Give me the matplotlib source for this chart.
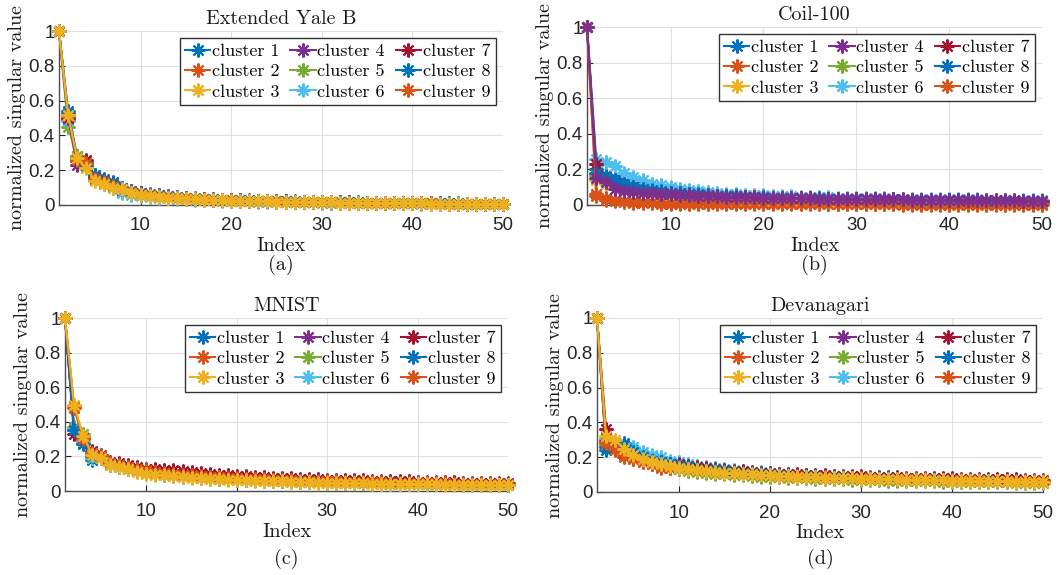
import numpy as np
import matplotlib
matplotlib.use("Agg")
import matplotlib.pyplot as plt

# normalized singular values of the first 50 components, one list per cluster
index = list(range(1, 51))
cluster_names = [f"cluster {i}" for i in range(1, 10)]
yticks = [0, 0.2, 0.4, 0.6, 0.8, 1]
xticks = [10, 20, 30, 40, 50]

# --- Extended Yale B ---
ya_c1 = [1.00, 0.54, 0.28, 0.22, 0.17, 0.15, 0.13, 0.10, 0.08, 0.07,
         0.060, 0.055, 0.050, 0.045, 0.040, 0.037, 0.034, 0.032, 0.030, 0.028,
         0.026, 0.025, 0.024, 0.023, 0.022, 0.021, 0.020, 0.019, 0.018, 0.017,
         0.016, 0.016, 0.015, 0.014, 0.014, 0.013, 0.012, 0.012, 0.011, 0.011,
         0.010, 0.010, 0.009, 0.009, 0.008, 0.008, 0.007, 0.007, 0.006, 0.006]
ya_c2 = [1.00, 0.50, 0.26, 0.25, 0.15, 0.13, 0.11, 0.09, 0.08, 0.07,
         0.058, 0.052, 0.047, 0.042, 0.038, 0.035, 0.032, 0.030, 0.028, 0.026,
         0.025, 0.024, 0.023, 0.022, 0.021, 0.020, 0.019, 0.018, 0.017, 0.016,
         0.015, 0.015, 0.014, 0.013, 0.013, 0.012, 0.011, 0.011, 0.010, 0.010,
         0.009, 0.009, 0.008, 0.008, 0.007, 0.007, 0.006, 0.006, 0.005, 0.005]
ya_c3 = [1.00, 0.52, 0.27, 0.21, 0.14, 0.12, 0.10, 0.09, 0.07, 0.06,
         0.052, 0.047, 0.043, 0.040, 0.036, 0.033, 0.031, 0.029, 0.027, 0.025,
         0.024, 0.023, 0.022, 0.021, 0.020, 0.019, 0.018, 0.017, 0.016, 0.015,
         0.015, 0.014, 0.013, 0.013, 0.012, 0.011, 0.011, 0.010, 0.010, 0.009,
         0.009, 0.008, 0.008, 0.007, 0.007, 0.006, 0.006, 0.005, 0.005, 0.005]
ya_c4 = [1.00, 0.49, 0.23, 0.24, 0.16, 0.12, 0.11, 0.08, 0.07, 0.06,
         0.054, 0.049, 0.044, 0.040, 0.037, 0.034, 0.031, 0.029, 0.027, 0.025,
         0.024, 0.023, 0.022, 0.021, 0.020, 0.019, 0.018, 0.017, 0.016, 0.015,
         0.014, 0.014, 0.013, 0.012, 0.012, 0.011, 0.011, 0.010, 0.010, 0.009,
         0.009, 0.008, 0.008, 0.007, 0.007, 0.006, 0.006, 0.005, 0.005, 0.004]
ya_c5 = [1.00, 0.45, 0.28, 0.23, 0.16, 0.13, 0.12, 0.09, 0.08, 0.065,
         0.057, 0.051, 0.046, 0.042, 0.038, 0.035, 0.032, 0.030, 0.028, 0.026,
         0.025, 0.024, 0.023, 0.022, 0.021, 0.020, 0.019, 0.018, 0.017, 0.016,
         0.015, 0.015, 0.014, 0.013, 0.013, 0.012, 0.011, 0.011, 0.010, 0.010,
         0.009, 0.009, 0.008, 0.008, 0.007, 0.007, 0.006, 0.006, 0.005, 0.005]
ya_c6 = [1.00, 0.48, 0.26, 0.22, 0.15, 0.12, 0.10, 0.07, 0.06, 0.05,
         0.045, 0.041, 0.038, 0.035, 0.032, 0.030, 0.028, 0.026, 0.024, 0.023,
         0.022, 0.021, 0.020, 0.019, 0.018, 0.017, 0.016, 0.015, 0.015, 0.014,
         0.013, 0.013, 0.012, 0.012, 0.011, 0.011, 0.010, 0.010, 0.009, 0.009,
         0.008, 0.008, 0.007, 0.007, 0.006, 0.006, 0.005, 0.005, 0.004, 0.004]
ya_c7 = [1.00, 0.50, 0.25, 0.26, 0.16, 0.14, 0.12, 0.09, 0.08, 0.07,
         0.059, 0.053, 0.048, 0.043, 0.039, 0.036, 0.033, 0.031, 0.029, 0.027,
         0.026, 0.025, 0.024, 0.023, 0.022, 0.021, 0.020, 0.019, 0.018, 0.017,
         0.016, 0.015, 0.015, 0.014, 0.013, 0.013, 0.012, 0.011, 0.011, 0.010,
         0.010, 0.009, 0.009, 0.008, 0.008, 0.007, 0.007, 0.006, 0.006, 0.005]
ya_c8 = [1.00, 0.53, 0.27, 0.23, 0.17, 0.14, 0.12, 0.10, 0.08, 0.07,
         0.061, 0.056, 0.051, 0.046, 0.042, 0.038, 0.035, 0.033, 0.031, 0.029,
         0.027, 0.026, 0.025, 0.024, 0.023, 0.022, 0.021, 0.020, 0.019, 0.018,
         0.017, 0.016, 0.016, 0.015, 0.014, 0.014, 0.013, 0.012, 0.012, 0.011,
         0.011, 0.010, 0.010, 0.009, 0.009, 0.008, 0.008, 0.007, 0.007, 0.006]
ya_c9 = [1.00, 0.51, 0.26, 0.24, 0.15, 0.13, 0.11, 0.09, 0.075, 0.065,
         0.056, 0.050, 0.046, 0.042, 0.038, 0.035, 0.032, 0.030, 0.028, 0.026,
         0.025, 0.024, 0.023, 0.022, 0.021, 0.020, 0.019, 0.018, 0.017, 0.016,
         0.015, 0.014, 0.014, 0.013, 0.012, 0.012, 0.011, 0.011, 0.010, 0.010,
         0.009, 0.009, 0.008, 0.008, 0.007, 0.007, 0.006, 0.006, 0.005, 0.005]

# --- Coil-100 ---
cb_c1 = [1.00, 0.20, 0.17, 0.15, 0.13, 0.11, 0.10, 0.09, 0.08, 0.075,
         0.070, 0.066, 0.062, 0.058, 0.055, 0.052, 0.050, 0.048, 0.046, 0.044,
         0.043, 0.042, 0.041, 0.040, 0.039, 0.038, 0.037, 0.036, 0.035, 0.034,
         0.033, 0.032, 0.032, 0.031, 0.030, 0.030, 0.029, 0.028, 0.028, 0.027,
         0.027, 0.026, 0.026, 0.025, 0.025, 0.024, 0.024, 0.023, 0.023, 0.022]
cb_c2 = [1.00, 0.05, 0.03, 0.02, 0.015, 0.012, 0.010, 0.009, 0.008, 0.008,
         0.007, 0.007, 0.006, 0.006, 0.006, 0.005, 0.005, 0.005, 0.005, 0.004,
         0.004, 0.004, 0.004, 0.004, 0.004, 0.003, 0.003, 0.003, 0.003, 0.003,
         0.003, 0.003, 0.003, 0.003, 0.002, 0.002, 0.002, 0.002, 0.002, 0.002,
         0.002, 0.002, 0.002, 0.002, 0.002, 0.002, 0.002, 0.002, 0.002, 0.002]
cb_c3 = [1.00, 0.14, 0.12, 0.11, 0.09, 0.08, 0.07, 0.06, 0.055, 0.05,
         0.046, 0.043, 0.040, 0.037, 0.035, 0.033, 0.031, 0.029, 0.028, 0.027,
         0.026, 0.025, 0.024, 0.023, 0.022, 0.021, 0.021, 0.020, 0.019, 0.019,
         0.018, 0.018, 0.017, 0.017, 0.016, 0.016, 0.015, 0.015, 0.015, 0.014,
         0.014, 0.014, 0.013, 0.013, 0.013, 0.012, 0.012, 0.012, 0.011, 0.011]
cb_c4 = [1.00, 0.15, 0.13, 0.09, 0.08, 0.075, 0.07, 0.065, 0.062, 0.059,
         0.056, 0.054, 0.052, 0.050, 0.048, 0.046, 0.045, 0.044, 0.043, 0.042,
         0.041, 0.040, 0.039, 0.038, 0.037, 0.036, 0.036, 0.035, 0.034, 0.034,
         0.033, 0.032, 0.032, 0.031, 0.031, 0.030, 0.030, 0.029, 0.029, 0.028,
         0.028, 0.028, 0.027, 0.027, 0.026, 0.026, 0.026, 0.025, 0.025, 0.025]
cb_c5 = [1.00, 0.17, 0.14, 0.12, 0.10, 0.09, 0.08, 0.07, 0.065, 0.06,
         0.056, 0.052, 0.049, 0.046, 0.044, 0.042, 0.040, 0.038, 0.036, 0.035,
         0.034, 0.033, 0.032, 0.031, 0.030, 0.029, 0.028, 0.027, 0.027, 0.026,
         0.025, 0.025, 0.024, 0.023, 0.023, 0.022, 0.022, 0.021, 0.021, 0.020,
         0.020, 0.019, 0.019, 0.019, 0.018, 0.018, 0.018, 0.017, 0.017, 0.017]
cb_c6 = [1.00, 0.26, 0.24, 0.22, 0.18, 0.16, 0.14, 0.12, 0.11, 0.10,
         0.090, 0.083, 0.077, 0.072, 0.068, 0.064, 0.061, 0.058, 0.056, 0.054,
         0.052, 0.050, 0.048, 0.047, 0.046, 0.044, 0.043, 0.042, 0.041, 0.040,
         0.039, 0.038, 0.037, 0.036, 0.036, 0.035, 0.034, 0.034, 0.033, 0.032,
         0.032, 0.031, 0.031, 0.030, 0.030, 0.029, 0.029, 0.028, 0.028, 0.027]
cb_c7 = [1.00, 0.23, 0.16, 0.13, 0.11, 0.10, 0.09, 0.08, 0.075, 0.07,
         0.066, 0.062, 0.058, 0.055, 0.052, 0.050, 0.048, 0.046, 0.044, 0.042,
         0.041, 0.040, 0.039, 0.038, 0.037, 0.036, 0.035, 0.034, 0.033, 0.032,
         0.032, 0.031, 0.030, 0.030, 0.029, 0.028, 0.028, 0.027, 0.027, 0.026,
         0.026, 0.025, 0.025, 0.024, 0.024, 0.023, 0.023, 0.023, 0.022, 0.022]
cb_c8 = [1.00, 0.18, 0.16, 0.14, 0.12, 0.10, 0.09, 0.085, 0.08, 0.07,
         0.066, 0.062, 0.059, 0.056, 0.053, 0.051, 0.049, 0.047, 0.045, 0.044,
         0.042, 0.041, 0.040, 0.039, 0.038, 0.037, 0.036, 0.035, 0.034, 0.034,
         0.033, 0.032, 0.031, 0.031, 0.030, 0.030, 0.029, 0.028, 0.028, 0.027,
         0.027, 0.026, 0.026, 0.025, 0.025, 0.025, 0.024, 0.024, 0.023, 0.023]
cb_c9 = [1.00, 0.06, 0.04, 0.03, 0.025, 0.02, 0.018, 0.016, 0.015, 0.014,
         0.013, 0.013, 0.012, 0.012, 0.011, 0.011, 0.011, 0.010, 0.010, 0.010,
         0.010, 0.009, 0.009, 0.009, 0.009, 0.009, 0.008, 0.008, 0.008, 0.008,
         0.008, 0.008, 0.007, 0.007, 0.007, 0.007, 0.007, 0.007, 0.007, 0.006,
         0.006, 0.006, 0.006, 0.006, 0.006, 0.006, 0.006, 0.005, 0.005, 0.005]

# --- MNIST ---
mn_c1 = [1.00, 0.36, 0.28, 0.18, 0.19, 0.15, 0.14, 0.13, 0.12, 0.11,
         0.100, 0.095, 0.090, 0.086, 0.082, 0.078, 0.075, 0.072, 0.070, 0.067,
         0.065, 0.063, 0.061, 0.059, 0.057, 0.056, 0.054, 0.053, 0.052, 0.050,
         0.049, 0.048, 0.047, 0.046, 0.045, 0.044, 0.043, 0.042, 0.041, 0.041,
         0.040, 0.039, 0.038, 0.038, 0.037, 0.036, 0.036, 0.035, 0.035, 0.034]
mn_c2 = [1.00, 0.49, 0.31, 0.21, 0.20, 0.16, 0.15, 0.14, 0.13, 0.12,
         0.110, 0.104, 0.098, 0.093, 0.089, 0.085, 0.081, 0.078, 0.075, 0.072,
         0.070, 0.068, 0.066, 0.064, 0.062, 0.060, 0.059, 0.057, 0.056, 0.055,
         0.053, 0.052, 0.051, 0.050, 0.049, 0.048, 0.047, 0.046, 0.045, 0.045,
         0.044, 0.043, 0.042, 0.042, 0.041, 0.040, 0.040, 0.039, 0.039, 0.038]
mn_c3 = [1.00, 0.50, 0.32, 0.21, 0.19, 0.15, 0.14, 0.13, 0.11, 0.10,
         0.095, 0.090, 0.085, 0.081, 0.077, 0.074, 0.071, 0.068, 0.066, 0.064,
         0.062, 0.060, 0.058, 0.056, 0.055, 0.053, 0.052, 0.051, 0.049, 0.048,
         0.047, 0.046, 0.045, 0.044, 0.043, 0.042, 0.042, 0.041, 0.040, 0.039,
         0.039, 0.038, 0.037, 0.037, 0.036, 0.036, 0.035, 0.035, 0.034, 0.034]
mn_c4 = [1.00, 0.35, 0.30, 0.20, 0.20, 0.16, 0.15, 0.14, 0.125, 0.115,
         0.105, 0.100, 0.095, 0.090, 0.086, 0.082, 0.079, 0.076, 0.073, 0.070,
         0.068, 0.066, 0.064, 0.062, 0.060, 0.059, 0.057, 0.056, 0.054, 0.053,
         0.052, 0.051, 0.050, 0.049, 0.048, 0.047, 0.046, 0.045, 0.044, 0.044,
         0.043, 0.042, 0.041, 0.041, 0.040, 0.039, 0.039, 0.038, 0.038, 0.037]
mn_c5 = [1.00, 0.37, 0.33, 0.19, 0.19, 0.15, 0.14, 0.13, 0.12, 0.11,
         0.100, 0.094, 0.089, 0.085, 0.081, 0.077, 0.074, 0.071, 0.068, 0.066,
         0.064, 0.062, 0.060, 0.058, 0.056, 0.055, 0.053, 0.052, 0.051, 0.049,
         0.048, 0.047, 0.046, 0.045, 0.044, 0.043, 0.043, 0.042, 0.041, 0.040,
         0.040, 0.039, 0.038, 0.038, 0.037, 0.037, 0.036, 0.036, 0.035, 0.035]
mn_c6 = [1.00, 0.36, 0.29, 0.19, 0.20, 0.15, 0.14, 0.13, 0.12, 0.105,
         0.098, 0.092, 0.087, 0.083, 0.079, 0.075, 0.072, 0.069, 0.067, 0.065,
         0.063, 0.061, 0.059, 0.057, 0.055, 0.054, 0.052, 0.051, 0.050, 0.049,
         0.048, 0.047, 0.046, 0.045, 0.044, 0.043, 0.042, 0.041, 0.041, 0.040,
         0.039, 0.038, 0.038, 0.037, 0.037, 0.036, 0.035, 0.035, 0.034, 0.034]
mn_c7 = [1.00, 0.33, 0.31, 0.23, 0.21, 0.17, 0.16, 0.15, 0.14, 0.13,
         0.128, 0.124, 0.120, 0.114, 0.108, 0.103, 0.099, 0.095, 0.091, 0.088,
         0.085, 0.082, 0.080, 0.078, 0.076, 0.074, 0.072, 0.070, 0.068, 0.066,
         0.065, 0.063, 0.062, 0.061, 0.059, 0.058, 0.057, 0.056, 0.055, 0.054,
         0.053, 0.052, 0.051, 0.050, 0.049, 0.048, 0.047, 0.047, 0.046, 0.045]
mn_c8 = [1.00, 0.35, 0.27, 0.20, 0.20, 0.16, 0.15, 0.135, 0.125, 0.115,
         0.106, 0.100, 0.095, 0.090, 0.086, 0.082, 0.079, 0.076, 0.073, 0.071,
         0.068, 0.066, 0.064, 0.062, 0.061, 0.059, 0.058, 0.056, 0.055, 0.054,
         0.052, 0.051, 0.050, 0.049, 0.048, 0.047, 0.046, 0.046, 0.045, 0.044,
         0.043, 0.043, 0.042, 0.041, 0.041, 0.040, 0.040, 0.039, 0.038, 0.038]
mn_c9 = [1.00, 0.48, 0.30, 0.22, 0.20, 0.16, 0.15, 0.14, 0.13, 0.12,
         0.112, 0.106, 0.100, 0.095, 0.091, 0.087, 0.083, 0.080, 0.077, 0.074,
         0.072, 0.070, 0.068, 0.066, 0.064, 0.062, 0.060, 0.059, 0.058, 0.056,
         0.055, 0.054, 0.053, 0.052, 0.051, 0.050, 0.049, 0.048, 0.047, 0.046,
         0.045, 0.045, 0.044, 0.043, 0.043, 0.042, 0.041, 0.041, 0.040, 0.040]

# --- Devanagari ---
dv_c1 = [1.00, 0.24, 0.26, 0.28, 0.24, 0.21, 0.19, 0.18, 0.17, 0.16,
         0.150, 0.142, 0.135, 0.129, 0.124, 0.119, 0.115, 0.111, 0.108, 0.105,
         0.102, 0.099, 0.097, 0.095, 0.093, 0.091, 0.089, 0.087, 0.086, 0.084,
         0.083, 0.081, 0.080, 0.079, 0.077, 0.076, 0.075, 0.074, 0.073, 0.072,
         0.071, 0.070, 0.069, 0.068, 0.067, 0.066, 0.066, 0.065, 0.064, 0.063]
dv_c2 = [1.00, 0.29, 0.24, 0.20, 0.19, 0.17, 0.16, 0.14, 0.14, 0.13,
         0.125, 0.120, 0.115, 0.111, 0.107, 0.104, 0.101, 0.098, 0.096, 0.094,
         0.092, 0.090, 0.088, 0.086, 0.084, 0.083, 0.081, 0.080, 0.079, 0.077,
         0.076, 0.075, 0.074, 0.073, 0.072, 0.071, 0.070, 0.069, 0.068, 0.067,
         0.066, 0.066, 0.065, 0.064, 0.063, 0.063, 0.062, 0.061, 0.061, 0.060]
dv_c3 = [1.00, 0.32, 0.30, 0.25, 0.21, 0.19, 0.17, 0.16, 0.15, 0.14,
         0.133, 0.127, 0.121, 0.116, 0.112, 0.108, 0.104, 0.101, 0.098, 0.095,
         0.093, 0.091, 0.089, 0.087, 0.085, 0.083, 0.081, 0.080, 0.078, 0.077,
         0.075, 0.074, 0.073, 0.072, 0.071, 0.070, 0.069, 0.068, 0.067, 0.066,
         0.065, 0.064, 0.063, 0.062, 0.062, 0.061, 0.060, 0.059, 0.059, 0.058]
dv_c4 = [1.00, 0.30, 0.27, 0.24, 0.21, 0.19, 0.18, 0.16, 0.155, 0.15,
         0.140, 0.133, 0.127, 0.122, 0.117, 0.113, 0.109, 0.106, 0.103, 0.100,
         0.098, 0.096, 0.094, 0.092, 0.090, 0.088, 0.087, 0.085, 0.084, 0.082,
         0.081, 0.080, 0.079, 0.077, 0.076, 0.075, 0.074, 0.073, 0.072, 0.071,
         0.070, 0.070, 0.069, 0.068, 0.067, 0.066, 0.066, 0.065, 0.064, 0.064]
dv_c5 = [1.00, 0.27, 0.26, 0.23, 0.20, 0.18, 0.16, 0.15, 0.14, 0.13,
         0.122, 0.116, 0.111, 0.106, 0.102, 0.098, 0.095, 0.092, 0.089, 0.087,
         0.085, 0.083, 0.081, 0.079, 0.077, 0.075, 0.074, 0.072, 0.071, 0.070,
         0.068, 0.067, 0.066, 0.065, 0.064, 0.063, 0.062, 0.061, 0.060, 0.059,
         0.058, 0.058, 0.057, 0.056, 0.055, 0.055, 0.054, 0.053, 0.053, 0.052]
dv_c6 = [1.00, 0.31, 0.28, 0.26, 0.26, 0.23, 0.21, 0.20, 0.18, 0.17,
         0.160, 0.152, 0.145, 0.139, 0.133, 0.127, 0.122, 0.117, 0.113, 0.109,
         0.105, 0.102, 0.099, 0.096, 0.094, 0.092, 0.090, 0.088, 0.086, 0.084,
         0.082, 0.081, 0.079, 0.078, 0.076, 0.075, 0.074, 0.073, 0.071, 0.070,
         0.069, 0.068, 0.067, 0.066, 0.065, 0.064, 0.064, 0.063, 0.062, 0.061]
dv_c7 = [1.00, 0.36, 0.27, 0.23, 0.21, 0.19, 0.18, 0.17, 0.16, 0.16,
         0.150, 0.143, 0.137, 0.132, 0.127, 0.123, 0.119, 0.115, 0.112, 0.109,
         0.106, 0.104, 0.102, 0.100, 0.098, 0.096, 0.094, 0.093, 0.091, 0.090,
         0.088, 0.087, 0.086, 0.084, 0.083, 0.082, 0.081, 0.080, 0.079, 0.078,
         0.077, 0.076, 0.075, 0.074, 0.073, 0.073, 0.072, 0.071, 0.070, 0.070]
dv_c8 = [1.00, 0.26, 0.25, 0.27, 0.23, 0.20, 0.18, 0.17, 0.16, 0.15,
         0.142, 0.135, 0.129, 0.124, 0.119, 0.115, 0.111, 0.107, 0.104, 0.101,
         0.098, 0.096, 0.094, 0.092, 0.090, 0.088, 0.086, 0.085, 0.083, 0.082,
         0.080, 0.079, 0.078, 0.077, 0.075, 0.074, 0.073, 0.072, 0.071, 0.070,
         0.069, 0.068, 0.068, 0.067, 0.066, 0.065, 0.064, 0.064, 0.063, 0.062]
dv_c9 = [1.00, 0.28, 0.25, 0.21, 0.19, 0.17, 0.16, 0.15, 0.14, 0.14,
         0.130, 0.124, 0.119, 0.114, 0.110, 0.107, 0.104, 0.101, 0.098, 0.096,
         0.094, 0.092, 0.090, 0.088, 0.086, 0.085, 0.083, 0.082, 0.080, 0.079,
         0.078, 0.077, 0.076, 0.075, 0.074, 0.073, 0.072, 0.071, 0.070, 0.069,
         0.068, 0.068, 0.067, 0.066, 0.065, 0.065, 0.064, 0.063, 0.063, 0.062]

titles = ["Extended Yale B", "Coil-100", "MNIST", "Devanagari"]
captions = ["(a)", "(b)", "(c)", "(d)"]
series = [
    [ya_c1, ya_c2, ya_c3, ya_c4, ya_c5, ya_c6, ya_c7, ya_c8, ya_c9],
    [cb_c1, cb_c2, cb_c3, cb_c4, cb_c5, cb_c6, cb_c7, cb_c8, cb_c9],
    [mn_c1, mn_c2, mn_c3, mn_c4, mn_c5, mn_c6, mn_c7, mn_c8, mn_c9],
    [dv_c1, dv_c2, dv_c3, dv_c4, dv_c5, dv_c6, dv_c7, dv_c8, dv_c9],
]
# cluster that ends up drawn on top in each panel
front = [2, 3, 2, 2]

# MATLAB default line colour order (wraps after seven)
colors = ["#0072BD", "#D95319", "#EDB120", "#7E2F8E", "#77AC30",
          "#4DBEEE", "#A2142F", "#0072BD", "#D95319"]

W, H = 1058, 575
# axes boxes in pixels: left, right, top, bottom
boxes = [(59, 503, 31, 205), (587, 1042, 27, 205),
         (65, 508, 318, 491), (597, 1043, 318, 492)]
caption_y = [265, 265, 559, 559]

SERIF = "cmr10"
SANS = "Liberation Sans"
AXCOL = "#262626"
TXT = "#1a1a1a"

fig = plt.figure(figsize=(W / 100, H / 100), dpi=100)
asterisk = (8, 2, 0)

for k in range(4):
    l, r, t, b = boxes[k]
    ax = fig.add_axes([l / W, 1 - b / H, (r - l) / W, (b - t) / H])
    for j, (name, vals, col) in enumerate(zip(cluster_names, series[k], colors)):
        z = 4 if j == front[k] else 3
        ax.plot(index, vals, color=col, lw=1.5, marker=asterisk, ms=10,
                mew=1.5, label=name, clip_on=False, zorder=z)
    ax.set_xlim(1, 50)
    ax.set_ylim(0, 1)
    ax.set_xticks(xticks)
    ax.set_yticks(yticks)
    ax.set_xticklabels([f"{v:g}" for v in xticks], fontfamily=SANS, fontsize=13.5)
    ax.set_yticklabels([f"{v:g}" for v in yticks], fontfamily=SANS, fontsize=13.5)
    ax.tick_params(direction="in", length=4, width=0.8, colors=AXCOL, pad=3)
    ax.tick_params(axis="x", pad=9)
    ax.grid(True, color="#e0e0e0", lw=0.8, zorder=0)
    ax.set_axisbelow(True)
    for side in ("top", "right"):
        ax.spines[side].set_visible(False)
    for side in ("left", "bottom"):
        ax.spines[side].set_color("#4d4d4d")
        ax.spines[side].set_linewidth(1.0)
    ax.set_title(titles[k], fontfamily=SERIF, fontsize=14.5, pad=5, color=TXT)
    ax.set_xlabel("Index", fontfamily=SERIF, fontsize=14.5, labelpad=2, color=TXT)
    ax.set_ylabel("normalized singular value", fontfamily=SERIF, fontsize=14.5,
                  labelpad=2, color=TXT)
    leg = ax.legend(ncol=3, loc="upper right", prop={"family": SERIF, "size": 13},
                    frameon=True, fancybox=False, edgecolor="#333333",
                    framealpha=1, borderpad=0.3, labelspacing=0.25,
                    handlelength=1.4, handletextpad=0.1, columnspacing=0.6,
                    borderaxespad=0.4)
    leg.get_frame().set_linewidth(1.0)
    leg.set_zorder(10)
    fig.text((l + r) / 2 / W, 1 - caption_y[k] / H, captions[k],
             fontfamily=SERIF, fontsize=14.5, ha="center", va="center", color=TXT)

fig.savefig("out.png", dpi=100)
